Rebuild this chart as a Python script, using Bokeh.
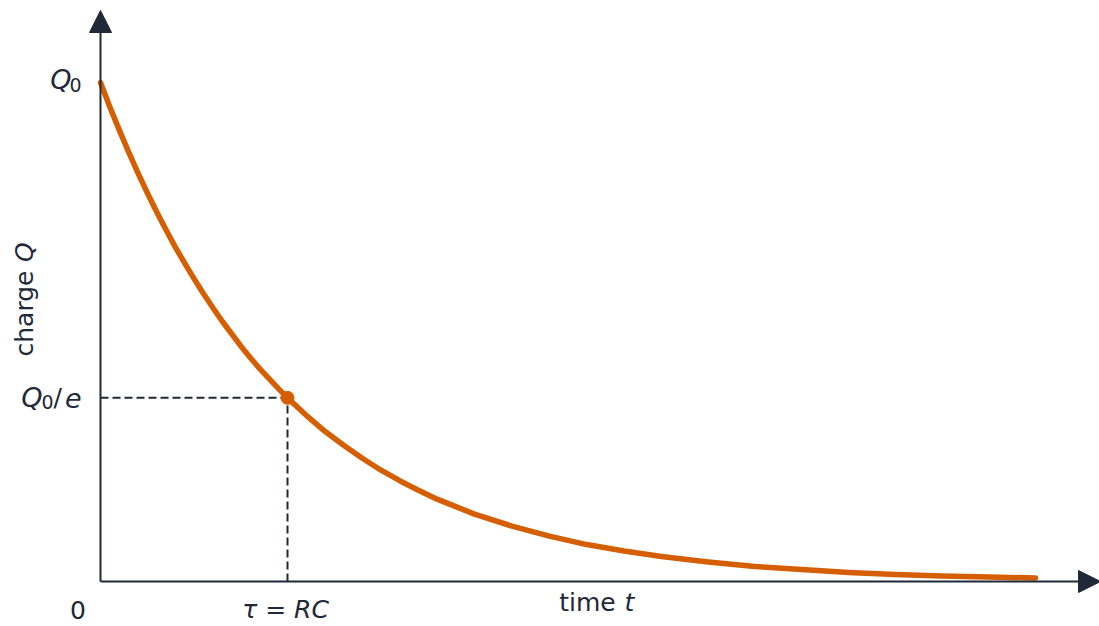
import math
from bokeh.plotting import figure
from bokeh.models import Range1d, Arrow, NormalHead
from bokeh.core.properties import value
from bokeh.embed import file_html
from bokeh.resources import INLINE

# ---------------- data ----------------
# time in units of tau = RC
t_over_tau = [0.0, 0.05, 0.1, 0.15, 0.2, 0.25, 0.3, 0.35, 0.4, 0.45,
              0.5, 0.55, 0.6, 0.65, 0.7, 0.75, 0.8, 0.85, 0.9, 0.95,
              1.0, 1.1, 1.2, 1.3, 1.4, 1.5, 1.6, 1.7, 1.8, 1.9,
              2.0, 2.2, 2.4, 2.6, 2.8, 3.0, 3.25, 3.5, 3.75, 4.0,
              4.25, 4.5, 4.75, 5.0]
# charge in units of Q0
q_over_q0 = [1.000, 0.951, 0.905, 0.861, 0.819, 0.779, 0.741, 0.705, 0.670, 0.638,
             0.607, 0.577, 0.549, 0.522, 0.497, 0.472, 0.449, 0.427, 0.407, 0.387,
             0.368, 0.333, 0.301, 0.273, 0.247, 0.223, 0.202, 0.183, 0.165, 0.150,
             0.135, 0.111, 0.091, 0.074, 0.061, 0.050, 0.039, 0.030, 0.024, 0.018,
             0.014, 0.011, 0.009, 0.007]
# marked point: one time constant
tau_point_t = [1.0]
tau_point_q = [0.368]

# texts
x_axis_title = "time"
x_axis_var = "t"
y_axis_title = "charge "
y_axis_var = "Q"
origin_label = "0"
tau_label = "τ = RC"
q0_main, q0_sub = "Q", "0"

# ---------------- style / layout ----------------
W, H = 1099, 626
OX, OY = 100.0, 581.0        # pixel of the origin
SX, SY = 187.0, 499.0        # px per tau, px per Q0
AX = "#1f2937"
OR = "#d55e00"
FONT = value("DejaVu Sans")
FS = "25px"
FS_MATH = "27px"
FS_SUB = "19px"
FIX = 9.0                    # baseline correction (px)

def rx(x):
    return (x - OX) / SX

def ry(y):
    return (OY - y) / SY

p = figure(width=W, height=H, output_backend="svg", toolbar_location=None,
           x_range=Range1d(rx(0), rx(W)), y_range=Range1d(ry(H), ry(0)),
           x_axis_location=None, y_axis_location=None, min_border=0)
p.grid.visible = False
p.outline_line_color = None
p.background_fill_color = "white"
p.border_fill_color = "white"

# axes with arrow heads
p.add_layout(Arrow(end=NormalHead(size=22, fill_color=AX, line_color=AX, line_width=1),
                   x_start=0, y_start=0, x_end=rx(1100), y_end=0,
                   line_color=AX, line_width=2))
p.add_layout(Arrow(end=NormalHead(size=22, fill_color=AX, line_color=AX, line_width=1),
                   x_start=0, y_start=0, x_end=0, y_end=ry(10),
                   line_color=AX, line_width=2))

# dashed guides to the tau point
p.segment(x0=[0.0], y0=tau_point_q, x1=tau_point_t, y1=tau_point_q,
          line_color=AX, line_width=2, line_dash="8 4")
p.segment(x0=tau_point_t, y0=[0.0], x1=tau_point_t, y1=tau_point_q,
          line_color=AX, line_width=2, line_dash="8 4")

# decay curve
p.line(t_over_tau, q_over_q0, line_color=OR, line_width=5.5, line_cap="round",
       line_join="round")
p.scatter(tau_point_t, tau_point_q, size=13, fill_color=OR, line_color=OR)

def txt(x_px, y_px, s, size=FS, style="normal", align="left", angle=0.0, rot=False):
    if rot:
        x_px -= FIX
    else:
        y_px -= FIX
    p.text(x=[rx(x_px)], y=[ry(y_px)], text=[s], text_font=FONT, text_font_size=size,
           text_font_style=style, text_color=AX, text_align=align,
           text_baseline="alphabetic", angle=angle)

# Q0 label
txt(71, 88, q0_main, size=FS_MATH, style="italic", align="right")
txt(81, 93, q0_sub, size=FS_SUB, align="right")
# Q0/e label
txt(42, 406, q0_main, size=FS_MATH, style="italic", align="right")
txt(53, 410, q0_sub, size=FS_SUB, align="right")
txt(53, 406, "/", size=FS, align="left")
txt(81, 406, "e", size=FS_MATH, style="italic", align="right")

# origin and tau labels
txt(77.5, 618, origin_label, align="center")
txt(OX + tau_point_t[0] * SX - 2, 618, tau_label, style="italic", align="center")

# axis titles
txt(587, 611, x_axis_title, align="center")
txt(624, 611, x_axis_var, style="italic", align="left")
txt(33, 356, y_axis_title, align="left", angle=math.pi / 2, rot=True)
txt(33, 356 - 94.4, y_axis_var, style="italic", align="left", angle=math.pi / 2, rot=True)

open("out.html", "w").write(file_html(p, INLINE))
